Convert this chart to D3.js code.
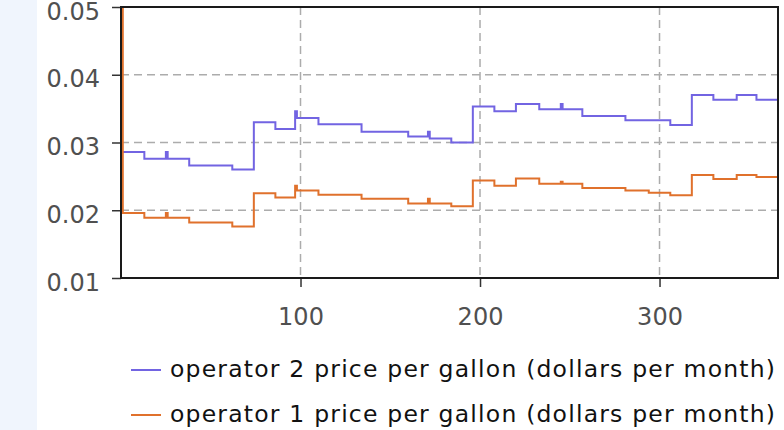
<!DOCTYPE html>
<html>
<head>
<meta charset="utf-8">
<script src="https://cdn.jsdelivr.net/npm/d3@7"></script>
<style>
  body { margin: 0; background: #fff; }
  svg { display: block; }
</style>
</head>
<body>
<div id="chart-area"></div>
<script>
// step breakpoints (day) and the price held from that day on
const days = [0, 1, 13, 25, 26, 38, 62, 74, 86, 97, 98, 110, 134, 160, 171, 172, 184, 196,
  208, 220, 233, 245, 246, 257, 281, 294, 306, 318, 330, 343, 354, 366]
const op2Price = [0.0286, 0.0286, 0.0276, 0.0286, 0.0276, 0.0266, 0.0260, 0.0330, 0.0320, 0.0346, 0.0336,
  0.0327, 0.0316, 0.0309, 0.0316, 0.0306, 0.0300, 0.0353, 0.0346, 0.0357, 0.0349, 0.0357, 0.0349,
  0.0339, 0.0333, 0.0333, 0.0326, 0.0370, 0.0363, 0.0370, 0.0363, 0.0363]
const op1Price = [0.0600, 0.0196, 0.0189, 0.0196, 0.0189, 0.0182, 0.0176, 0.0225, 0.0219, 0.0236, 0.0229,
  0.0223, 0.0217, 0.0210, 0.0217, 0.0210, 0.0206, 0.0244, 0.0236, 0.0247, 0.0239, 0.0242, 0.0239,
  0.0233, 0.0229, 0.0226, 0.0222, 0.0252, 0.0246, 0.0252, 0.0249, 0.0249]

const xTicks = [100, 200, 300]
const yTicks = [0.01, 0.02, 0.03, 0.04, 0.05]
const seriesNames = ['operator 2 price per gallon (dollars per month)',
  'operator 1 price per gallon (dollars per month)']
const seriesColors = ['#7264e2', '#e0712c']

const W = 784, H = 430
const PLOT = { LEFT: 121, RIGHT: 778, TOP: 7, BOTTOM: 278 }
const FONT = '"DejaVu Sans", Verdana, sans-serif'

const svg = d3.select('#chart-area').append('svg')
  .attr('width', W)
  .attr('height', H)

// pale strip on the left edge
svg.append('rect')
  .attr('x', 0).attr('y', 0)
  .attr('width', 37).attr('height', H)
  .attr('fill', '#f0f5fd')

const x = d3.scaleLinear().domain([0, 366]).range([PLOT.LEFT, PLOT.RIGHT])
const y = d3.scaleLinear().domain([0.01, 0.05]).range([PLOT.BOTTOM, PLOT.TOP])

// grid
const grid = svg.append('g').attr('stroke', '#acacac').attr('stroke-width', 1.5)
  .attr('stroke-dasharray', '8,5')
grid.selectAll('.hg').data(yTicks.slice(1, -1)).enter().append('line')
  .attr('x1', PLOT.LEFT).attr('x2', PLOT.RIGHT)
  .attr('y1', d => y(d)).attr('y2', d => y(d))
grid.selectAll('.vg').data(xTicks).enter().append('line')
  .attr('x1', d => x(d)).attr('x2', d => x(d))
  .attr('y1', PLOT.TOP).attr('y2', PLOT.BOTTOM)

// series
svg.append('clipPath').attr('id', 'clip').append('rect')
  .attr('x', PLOT.LEFT).attr('y', PLOT.TOP)
  .attr('width', PLOT.RIGHT - PLOT.LEFT).attr('height', PLOT.BOTTOM - PLOT.TOP)

const line = d3.line()
  .x(d => x(d[0]))
  .y(d => y(d[1]))
  .curve(d3.curveStepAfter)

const series = [op2Price, op1Price]
series.forEach((vals, i) => {
  svg.append('path')
    .datum(days.map((d, j) => [d, vals[j]]))
    .attr('clip-path', 'url(#clip)')
    .attr('fill', 'none')
    .attr('stroke', seriesColors[i])
    .attr('stroke-width', 2)
    .attr('d', line)
})

// axes
const yAxis = svg.append('g')
  .attr('transform', `translate(${PLOT.LEFT},0)`)
  .call(d3.axisLeft(y).tickValues(yTicks).tickSize(9).tickPadding(12).tickFormat(d3.format('.2f')))
yAxis.select('.domain').remove()
yAxis.selectAll('line').attr('stroke', '#333').attr('stroke-width', 1.5)
yAxis.selectAll('text')
  .attr('dy', '12px')
  .attr('fill', '#505050')
  .attr('font-family', FONT)
  .attr('font-size', 24)

const xAxis = svg.append('g')
  .attr('transform', `translate(0,${PLOT.BOTTOM})`)
  .call(d3.axisBottom(x).tickValues(xTicks).tickSize(9))
xAxis.select('.domain').remove()
xAxis.selectAll('line').attr('stroke', '#333').attr('stroke-width', 1.5)
xAxis.selectAll('text')
  .attr('y', 47)
  .attr('dy', 0)
  .attr('fill', '#505050')
  .attr('font-family', FONT)
  .attr('font-size', 24)

// frame
svg.append('rect')
  .attr('x', PLOT.LEFT).attr('y', PLOT.TOP)
  .attr('width', PLOT.RIGHT - PLOT.LEFT).attr('height', PLOT.BOTTOM - PLOT.TOP)
  .attr('fill', 'none')
  .attr('stroke', '#1a1a1a')
  .attr('stroke-width', 2)

// legend
const legend = svg.append('g')
seriesNames.forEach((name, i) => {
  const ly = 370 + i * 45
  legend.append('line')
    .attr('x1', 131).attr('x2', 161)
    .attr('y1', ly).attr('y2', ly)
    .attr('stroke', seriesColors[i])
    .attr('stroke-width', 2)
  legend.append('text')
    .attr('x', 170).attr('y', ly + 7)
    .attr('font-family', FONT)
    .attr('font-size', 23.5)
    .attr('letter-spacing', '1.2px')
    .attr('fill', '#111')
    .text(name)
})
</script>
</body>
</html>
